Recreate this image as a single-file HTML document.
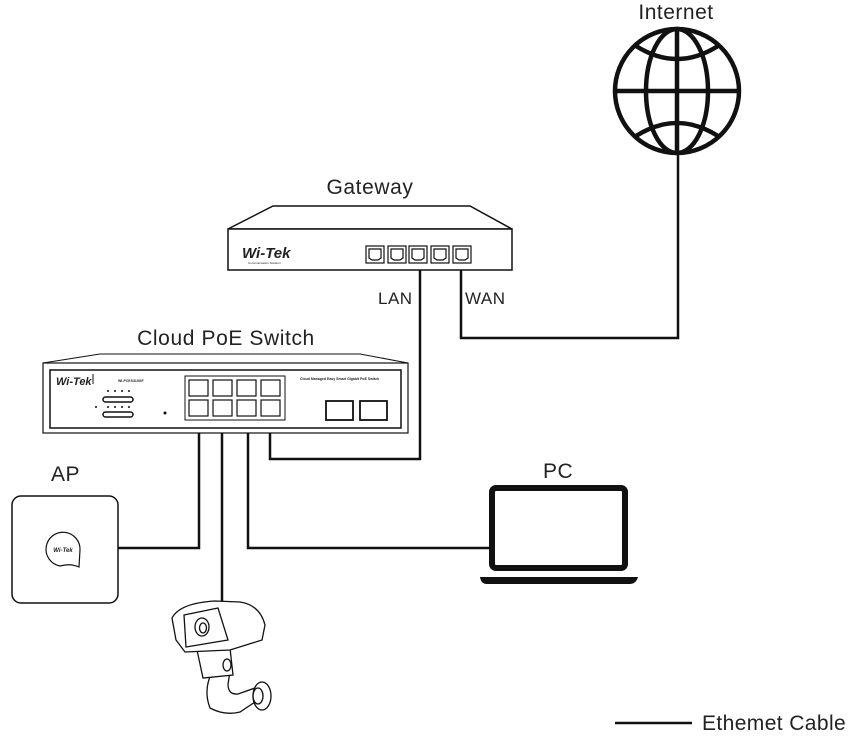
<!DOCTYPE html>
<html><head><meta charset="utf-8"><style>
html,body{margin:0;padding:0;background:#fff;}
svg{display:block;}
text{font-family:"Liberation Sans",sans-serif;fill:#222;}
</style></head><body>
<svg width="854" height="739" viewBox="0 0 854 739" xmlns="http://www.w3.org/2000/svg">
<!-- Globe -->
<text x="676" y="19" font-size="21" text-anchor="middle" letter-spacing="0.5">Internet</text>
<g fill="none" stroke="#111" stroke-width="4.5">
<circle cx="677" cy="91" r="62"/>
<ellipse cx="677" cy="91" rx="31" ry="62"/>
<line x1="677" y1="29" x2="677" y2="153"/>
<line x1="615" y1="91" x2="739" y2="91"/>
<path d="M636,46 Q677,72 718,46"/>
<path d="M636,136 Q677,110 718,136"/>
</g>
<!-- cables -->
<g fill="none" stroke="#111" stroke-width="2.5">
<polyline points="678,153 678,338 461,338 461,263"/>
<polyline points="420,263 420,459 270,459 270,432"/>
<polyline points="199,433 199,548 118,548"/>
<line x1="222" y1="433" x2="222" y2="602"/>
<polyline points="248,433 248,548 490,548"/>
<line x1="615" y1="723" x2="692" y2="723"/>
</g>
<!-- Gateway -->
<text x="370" y="194" font-size="21" text-anchor="middle" letter-spacing="0.6">Gateway</text>
<g fill="#fff" stroke="#111" stroke-width="1.5">
<polygon points="228,229 273,206 470,206 512,229"/>
<rect x="228" y="229" width="284" height="41"/>
</g>
<text x="242" y="258" font-size="15" font-weight="bold" font-style="italic" fill="#111">Wi-Tek</text>
<text x="248" y="264" font-size="3" fill="#333">Communication Solution</text>
<g fill="#fff" stroke="#111" stroke-width="1.2">
<rect x="366" y="246" width="18" height="17"/><rect x="388" y="246" width="18" height="17"/>
<rect x="409" y="246" width="18" height="17"/><rect x="431" y="246" width="18" height="17"/>
<rect x="453" y="246" width="18" height="17"/>
<path d="M369,249h12v9l-3,2h-6l-3,-2z M391,249h12v9l-3,2h-6l-3,-2z M412,249h12v9l-3,2h-6l-3,-2z M434,249h12v9l-3,2h-6l-3,-2z M456,249h12v9l-3,2h-6l-3,-2z"/>
</g>
<text x="378" y="304" font-size="17" letter-spacing="0.5">LAN</text>
<text x="465" y="304" font-size="17" letter-spacing="0.5">WAN</text>
<!-- Switch -->
<text x="226" y="345" font-size="21" text-anchor="middle" letter-spacing="0.6">Cloud PoE Switch</text>
<polyline points="43,363 100,354 360,354 408,363" fill="none" stroke="#111" stroke-width="1"/>
<rect x="43" y="363" width="365" height="70" fill="#fff" stroke="#111" stroke-width="1.2"/>
<rect x="50" y="370" width="351" height="58" fill="none" stroke="#111" stroke-width="1.5"/>
<text x="56" y="385" font-size="11" font-weight="bold" font-style="italic" fill="#111">Wi-Tek</text>
<line x1="93" y1="374" x2="93" y2="384" stroke="#111"/>
<text x="118" y="382" font-size="3.5" font-weight="bold">WI-PCES310GF</text>
<text x="300" y="380" font-size="3.5" font-weight="bold">Cloud Managed Easy Smart Gigabit PoE Switch</text>
<g fill="none" stroke="#111" stroke-width="1.5"><rect x="103" y="397" width="30" height="5" rx="2.5"/><rect x="103" y="412" width="30" height="5" rx="2.5"/></g>
<g fill="#111"><circle cx="165" cy="413" r="1.5"/><circle cx="108" cy="391" r="1"/><circle cx="115" cy="391" r="1"/><circle cx="122" cy="391" r="1"/><circle cx="129" cy="391" r="1"/><circle cx="108" cy="407" r="1"/><circle cx="115" cy="407" r="1"/><circle cx="122" cy="407" r="1"/><circle cx="129" cy="407" r="1"/><circle cx="96" cy="407" r="1"/></g>
<rect x="185" y="376" width="100" height="44" fill="#fff" stroke="#111" stroke-width="1"/>
<g fill="#fff" stroke="#111" stroke-width="1.2">
<rect x="189" y="380" width="19" height="16"/><rect x="213" y="380" width="19" height="16"/><rect x="237" y="380" width="19" height="16"/><rect x="261" y="380" width="19" height="16"/>
<rect x="189" y="400" width="19" height="16"/><rect x="213" y="400" width="19" height="16"/><rect x="237" y="400" width="19" height="16"/><rect x="261" y="400" width="19" height="16"/>
<rect x="326" y="401" width="27" height="19" stroke-width="1.8"/><rect x="360" y="401" width="27" height="19" stroke-width="1.8"/>
</g>
<!-- AP -->
<text x="51" y="481" font-size="21" letter-spacing="0.5">AP</text>
<rect x="12" y="496" width="106" height="107" rx="9" fill="#fff" stroke="#111" stroke-width="1.5"/>
<path d="M79,567 Q70,563 60,566 A17,17 0 1 1 80,550 Z" fill="#fff" stroke="#111" stroke-width="1.2"/>
<text x="63" y="552" font-size="6" font-weight="bold" font-style="italic" text-anchor="middle" fill="#111">Wi-Tek</text>
<!-- Camera -->
<g fill="#fff" stroke="#111" stroke-width="1.3">
<path d="M212,672 Q203,690 210,708 Q225,716 240,712 L258,700 L255,688 L238,694 Q228,695 228,684 L230,672 Z"/>
<ellipse cx="262" cy="696" rx="9" ry="14"/>
<ellipse cx="258" cy="696" rx="5" ry="8"/>
<path d="M197,650 L230,648 L233,675 L203,678 Z"/>
<ellipse cx="227" cy="665" rx="4" ry="6"/>
<path d="M172,618 Q180,603 215,601 L240,602 Q260,605 265,625 L262,640 L230,650 L185,652 L176,640 Z"/>
<path d="M184,615 L218,608 L228,640 L186,647 Z"/>
<ellipse cx="202" cy="627" rx="7" ry="9"/><ellipse cx="203" cy="628" rx="3.5" ry="5"/>
</g>
<!-- PC -->
<rect x="492" y="488" width="133" height="80" rx="4" fill="#fff" stroke="#111" stroke-width="6"/>
<path d="M480,577 H638 Q636,584 630,584 H487 Q481,584 480,577 Z" fill="#111"/>
<text x="543" y="478" font-size="21" letter-spacing="0.5">PC</text>
<text x="702" y="730" font-size="21" letter-spacing="0.4">Ethemet Cable</text>
</svg>
</body></html>
